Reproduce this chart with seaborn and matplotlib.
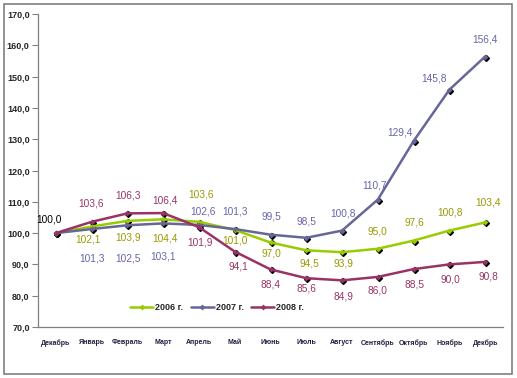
import matplotlib
matplotlib.use('Agg')
import matplotlib.pyplot as plt
import matplotlib.transforms as mtransforms
from matplotlib.patches import Rectangle
import seaborn as sns
import pandas as pd

# ── Data ──────────────────────────────────────────────────────────────────────
months = ['Декабрь', 'Январь', 'Февраль', 'Март', 'Апрель', 'Май', 'Июнь',
          'Июль', 'Август', 'Сентябрь', 'Октябрь', 'Ноябрь', 'Декбрь']
series_names = ['2006 г.', '2007 г.', '2008 г.']
v2006 = [100.0, 102.1, 103.9, 104.4, 103.6, 101.0, 97.0, 94.5, 93.9, 95.0, 97.6, 100.8, 103.4]
v2007 = [100.0, 101.3, 102.5, 103.1, 102.6, 101.3, 99.5, 98.5, 100.8, 110.7, 129.4, 145.8, 156.4]
v2008 = [100.0, 103.6, 106.3, 106.4, 101.9, 94.1, 88.4, 85.6, 84.9, 86.0, 88.5, 90.0, 90.8]
y_ticks = [70, 80, 90, 100, 110, 120, 130, 140, 150, 160, 170]

# ── Style ─────────────────────────────────────────────────────────────────────
line_colors = ['#99CC00', '#666699', '#993366']
label_colors = ['#999900', '#6666AA', '#993366']

# label offsets in pixels (dx, dy), one per point; first point labelled once in black
offs_2006 = [None, (-4, -13), (1, -17), (2, -19), (2, 27), (0, -11), (1, -11),
             (3, -13), (1, -11), (0, 17), (1, 18), (1, 18), (3, 20)]
offs_2007 = [None, (0, -29), (1, -33), (0, -33), (4, 13), (0, 18), (1, 18),
             (0, 16), (1, 17), (-3, 14), (-14, 9), (-15, 11), (0, 17)]
offs_2008 = [None, (-1, 18), (1, 18), (2, 13), (1, -15), (4, -15), (0, -15),
             (0, -10), (1, -16), (0, -14), (1, -15), (1, -15), (3, -15)]

sns.set_style('white')
plt.rcParams['font.family'] = ['Liberation Sans', 'DejaVu Sans']

rows = []
for name, vals in zip(series_names, [v2006, v2007, v2008]):
    for i, v in enumerate(vals):
        rows.append({'idx': i, 'value': v, 'series': name})
df = pd.DataFrame(rows)

fig = plt.figure(figsize=(5.17, 3.78), dpi=100)
ax = fig.add_axes([38 / 517, 1 - 327 / 378, 465 / 517, 313 / 378])

# black marker shadows
shadow = mtransforms.offset_copy(ax.transData, fig=fig, x=1.0, y=-1.0, units='dots')
for vals in [v2006, v2007, v2008]:
    ax.plot(range(len(vals)), vals, linestyle='none', marker='D', markersize=3.0,
            color='black', transform=shadow, zorder=3)

sns.lineplot(data=df, x='idx', y='value', hue='series', palette=line_colors,
             marker='D', markersize=3.0, markeredgewidth=0, linewidth=1.8,
             sort=False, ax=ax, zorder=4)

# data labels
for vals, offs, col in zip([v2006, v2007, v2008], [offs_2006, offs_2007, offs_2008], label_colors):
    for i, (v, o) in enumerate(zip(vals, offs)):
        if o is None:
            continue
        ax.annotate(f'{v:.1f}'.replace('.', ','), (i, v), xytext=(o[0], o[1]),
                    textcoords='offset pixels', ha='center', va='center',
                    fontsize=7.3, color=col, zorder=5)
ax.annotate(f'{v2006[0]:.1f}'.replace('.', ','), (0, v2006[0]), xytext=(-7, 14),
            textcoords='offset pixels', ha='center', va='center',
            fontsize=7.3, color='black', zorder=5)

# axes
ax.set_xlim(-0.5, len(months) - 0.5)
ax.set_ylim(y_ticks[0], y_ticks[-1])
ax.set_yticks(y_ticks)
ax.set_yticklabels([f'{t:.1f}'.replace('.', ',') for t in y_ticks],
                   fontsize=6.5, fontweight='bold')
ax.set_xticks(range(len(months)))
ax.set_xticklabels(months, fontsize=5, fontweight='bold', color='#202040')
ax.set_xticks([i - 0.5 for i in range(len(months) + 1)], minor=True)
ax.tick_params(axis='x', which='major', length=0, pad=9)
ax.tick_params(axis='x', which='minor', length=4, width=0.8, color='#808080', direction='out')
ax.tick_params(axis='y', length=4, width=0.8, color='#808080', direction='out', pad=2, left=True)
ax.set_xlabel('')
ax.set_ylabel('')
for s in ['top', 'right']:
    ax.spines[s].set_visible(False)
for s in ['left', 'bottom']:
    ax.spines[s].set_color('#808080')
    ax.spines[s].set_linewidth(0.9)

leg = ax.legend(loc='center', bbox_to_anchor=(0.385, 0.062), ncol=3, frameon=False,
                handlelength=2.6, columnspacing=0.8, handletextpad=0.2,
                prop={'weight': 'bold', 'size': 6.5})

# outer chart border
fig.patches.append(Rectangle((4 / 517, 4 / 378), 508 / 517, 370 / 378, transform=fig.transFigure,
                             fill=False, edgecolor='#808080', linewidth=1.2))

fig.savefig('out.png', dpi=100)
